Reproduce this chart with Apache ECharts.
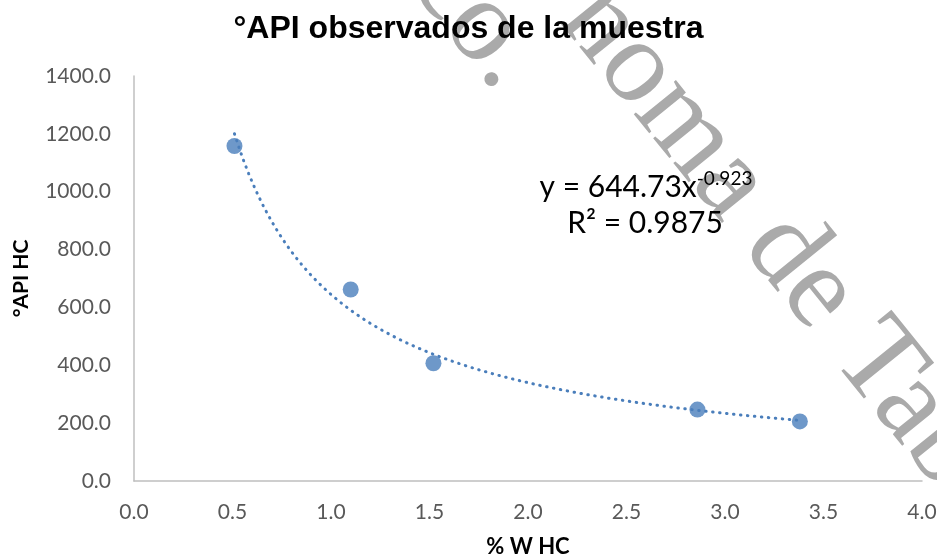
<!DOCTYPE html>
<html>
<head>
<meta charset="utf-8">
<script src="https://cdn.jsdelivr.net/npm/echarts@6/dist/echarts.min.js"></script>
<style>
  html, body { margin: 0; padding: 0; background: #ffffff; }
  #chart { width: 937px; height: 558px; }
</style>
</head>
<body>
<div id="chart"></div>
<script>
// Measured samples: hydrocarbon weight percent vs observed °API
const hcPercent = [0.51, 1.10, 1.52, 2.86, 3.38];
const apiObserved = [1158, 662, 407, 247, 206];

// Axis tick values
const xTicks = [0.0, 0.5, 1.0, 1.5, 2.0, 2.5, 3.0, 3.5, 4.0];
const yTicks = [0, 200, 400, 600, 800, 1000, 1200, 1400];

// Power-law trend line y = a * x^b, as printed on the chart
const fitCoef = 644.73;
const fitExp = -0.923;
const fitR2 = 0.9875;

const markerColor = '#4a7ebb';
const calibriLike = 'Lato';

const scatterData = hcPercent.map((x, i) => [x, apiObserved[i]]);

// Trend curve sampled across the measured x range
const xMin = Math.min(...hcPercent);
const xMax = Math.max(...hcPercent);
const trendData = [];
const steps = 120;
for (let i = 0; i <= steps; i++) {
  const x = xMin + (xMax - xMin) * i / steps;
  trendData.push([x, fitCoef * Math.pow(x, fitExp)]);
}

const deg = Math.PI / 180;
const chart = echarts.init(document.getElementById('chart'), null, { renderer: 'canvas' });

chart.setOption({
  animation: false,
  backgroundColor: '#ffffff',
  title: {
    text: '°API observados de la muestra',
    left: 'center',
    top: 8,
    textStyle: {
      fontFamily: 'Liberation Sans',
      fontSize: 32,
      fontWeight: 'bold',
      color: '#000000'
    }
  },
  grid: { left: 134, right: 15, top: 76, bottom: 77, containLabel: false, outerBoundsMode: 'none' },
  xAxis: {
    type: 'value',
    min: xTicks[0],
    max: xTicks[xTicks.length - 1],
    interval: xTicks[1] - xTicks[0],
    name: '% W HC',
    nameLocation: 'middle',
    nameGap: 55,
    nameTextStyle: { fontFamily: calibriLike, fontSize: 22, fontWeight: 'bold', color: '#000000' },
    axisLine: { show: true, lineStyle: { color: '#bfbfbf', width: 1.5 } },
    axisTick: { show: false },
    splitLine: { show: false },
    axisLabel: {
      margin: 21,
      color: '#595959',
      fontFamily: calibriLike,
      fontSize: 21,
      formatter: v => v.toFixed(1)
    }
  },
  yAxis: {
    type: 'value',
    min: yTicks[0],
    max: yTicks[yTicks.length - 1],
    interval: yTicks[1] - yTicks[0],
    name: '°API HC',
    nameLocation: 'middle',
    nameGap: 102,
    nameTextStyle: { fontFamily: calibriLike, fontSize: 21, fontWeight: 'bold', color: '#000000' },
    axisLine: { show: true, lineStyle: { color: '#bfbfbf', width: 1.5 } },
    axisTick: { show: false },
    splitLine: { show: false },
    axisLabel: {
      margin: 23,
      color: '#595959',
      fontFamily: calibriLike,
      fontSize: 21,
      formatter: v => v.toFixed(1)
    }
  },
  series: [
    {
      type: 'line',
      data: trendData,
      showSymbol: false,
      symbol: 'none',
      z: 2,
      lineStyle: { color: markerColor, width: 3, type: [0.5, 6.5], cap: 'round' }
    },
    {
      type: 'scatter',
      data: scatterData,
      symbol: 'circle',
      symbolSize: 16,
      z: 3,
      itemStyle: { color: markerColor }
    }
  ],
  graphic: [
    // Diagonal watermark
    {
      type: 'text',
      x: 582, y: 1,
      rotation: -51 * deg,
      z: -1,
      silent: true,
      style: {
        text: 'noma de Tab',
        font: '118px "Liberation Serif"',
        fill: '#aaaaaa',
        textAlign: 'left',
        textVerticalAlign: 'middle'
      }
    },
    {
      type: 'text',
      x: 432, y: -35,
      rotation: -51 * deg,
      z: -1,
      silent: true,
      style: {
        text: 'co.',
        font: '118px "Liberation Serif"',
        fill: '#aaaaaa',
        textAlign: 'left',
        textVerticalAlign: 'middle'
      }
    },
    // Trend line equation and fit quality
    {
      type: 'text',
      x: 646, y: 187,
      z: 10,
      style: {
        text: '{m|y = ' + fitCoef.toFixed(2) + 'x}{s|' + fitExp.toFixed(3) + '}',
        textAlign: 'center',
        textVerticalAlign: 'middle',
        rich: {
          m: { fontFamily: calibriLike, fontSize: 30, lineHeight: 36, color: '#000000' },
          s: { fontFamily: calibriLike, fontSize: 19, lineHeight: 20, verticalAlign: 'top', color: '#000000' }
        }
      }
    },
    {
      type: 'text',
      x: 645, y: 223,
      z: 10,
      style: {
        text: 'R² = ' + fitR2.toFixed(4),
        font: '30px Lato',
        fill: '#000000',
        textAlign: 'center',
        textVerticalAlign: 'middle'
      }
    }
  ]
});
</script>
</body>
</html>
